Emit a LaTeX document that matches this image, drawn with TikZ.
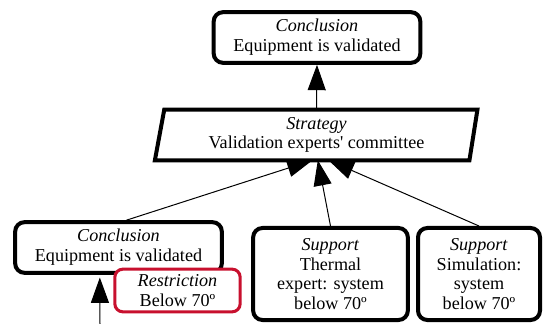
\documentclass[tikz,border=0pt]{standalone}
\usepackage{fontspec}
\setmainfont{Liberation Serif}
\usepackage{tikz}
\usetikzlibrary{arrows.meta, positioning, calc}

\begin{document}
\begin{tikzpicture}[x=0.75pt, y=0.75pt,
		txt/.style={font=\fontsize{13.6}{14.8}\selectfont, align=center, inner sep=0pt},
		gsnbox/.style={txt, draw=black, line width=3pt, rounded corners=7pt, fill=white},
		conclbox/.style={gsnbox, minimum width=155pt, minimum height=38pt},
		suppbox/.style={gsnbox, minimum height=69pt},
		restrbox/.style={gsnbox, draw={rgb,255:red,200;green,16;blue,46}, line width=2.3pt,
			rounded corners=6pt, minimum width=94pt, minimum height=32pt},
		link/.style={line width=0.75pt, -{Triangle[length=19pt, width=13.5pt]}}
	]
	% === RAMKA ===
	\useasboundingbox (0,0) rectangle (543,-324);
	
	% === 1. WNIOSEK GLOWNY ===
	\node[conclbox] (topconc) at (317,-37.5) {\textit{Conclusion}\\Equipment is validated};
	
	% === 2. STRATEGIA (rownoleglobok) ===
	\node[txt, minimum width=235pt, minimum height=37.5pt] (strat) at (316.5,-135)
	{\textit{Strategy}\\Validation experts\textquotesingle{} committee};
	\draw[line width=3pt, line join=miter]
	([xshift=3.5pt]strat.north west) -- ([xshift=3pt]strat.north east)
	-- ([xshift=-3pt]strat.south east) -- ([xshift=-3.5pt]strat.south west) -- cycle;
	
	% === 3. WNIOSEK CZASTKOWY + OGRANICZENIE ===
	\node[conclbox] (lconc) at (118.5,-247.5) {\textit{Conclusion}\\Equipment is validated};
	\node[restrbox] (restr) at (177.5,-290.5) {\textit{Restriction}\\Below 70º};
	
	% === 4. WSPARCIA ===
	\node[suppbox, minimum width=116pt] (thermal) at (330.5,-274)
	{\textit{Support}\\Thermal\\expert: system\\below 70º};
	\node[suppbox, minimum width=91.5pt] (simul) at (479,-274)
	{\textit{Support}\\Simulation:\\system\\below 70º};
	
	% === 5. POLACZENIA ===
	\coordinate (inlet) at (100,-324);
	\draw[link] (strat.north) -- (topconc.south);
	\draw[link] ([xshift=6pt]lconc.north) -- ([xshift=-3pt]strat.south);
	\draw[link] (thermal.north) -- ([xshift=1pt]strat.south);
	\draw[link] (simul.north) -- ([xshift=9pt]strat.south);
	\draw[link] (inlet) -- ([xshift=-14pt,yshift=-2pt]lconc.south);
	
\end{tikzpicture}
\end{document}
